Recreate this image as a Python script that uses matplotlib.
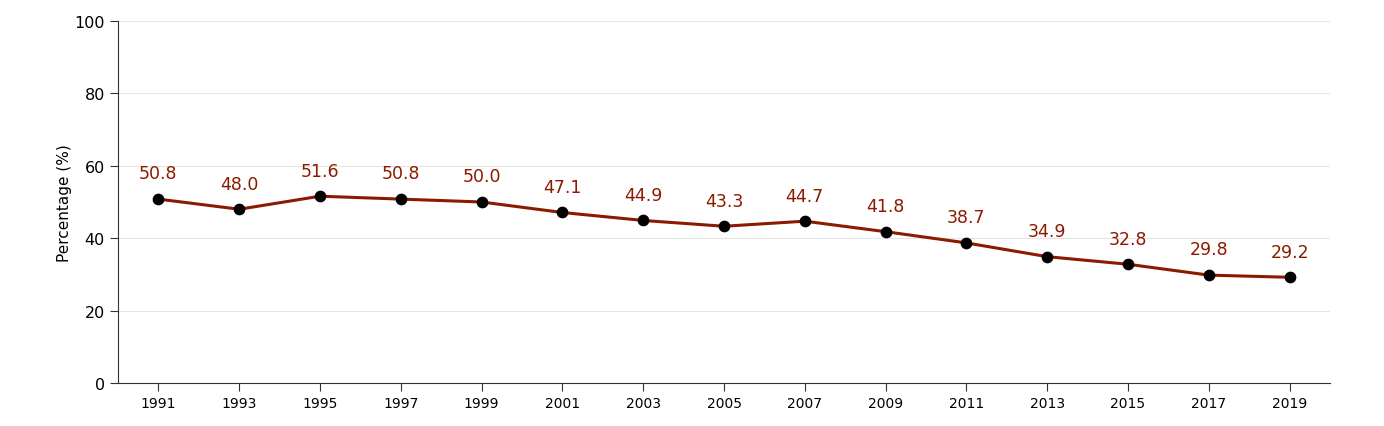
import matplotlib
matplotlib.use("Agg")
import matplotlib.pyplot as plt

years = ["1991", "1993", "1995", "1997", "1999", "2001", "2003", "2005",
         "2007", "2009", "2011", "2013", "2015", "2017", "2019"]
values = [50.8, 48.0, 51.6, 50.8, 50.0, 47.1, 44.9, 43.3,
          44.7, 41.8, 38.7, 34.9, 32.8, 29.8, 29.2]

line_color = "#8b1a00"

fig = plt.figure(figsize=(13.84, 4.27), dpi=100)
ax = fig.add_axes([118 / 1384, 43 / 427, 1212 / 1384, 362 / 427])

xs = list(range(len(years)))
ax.plot(xs, values, color=line_color, linewidth=2.2, zorder=2)
ax.scatter(xs, values, color="black", s=55, zorder=3)
for x, v in zip(xs, values):
    ax.annotate(f"{v:.1f}", (x, v), xytext=(0, 12), textcoords="offset points",
                ha="center", va="bottom", color=line_color, fontsize=12.5)

ax.set_xlim(-0.5, len(years) - 0.5)
ax.set_ylim(0, 100)
ax.set_xticks(xs)
ax.set_xticklabels(years, fontsize=10)
ax.set_yticks([0, 20, 40, 60, 80, 100])
ax.tick_params(axis="y", labelsize=11.5, length=6, color="#333333")
ax.tick_params(axis="x", length=6, color="#333333")
ax.set_ylabel("Percentage (%)", fontsize=11, labelpad=2)
ax.grid(axis="y", color="#e5e5e5", linewidth=0.8, zorder=0)
ax.set_axisbelow(True)
ax.spines["top"].set_visible(False)
ax.spines["right"].set_visible(False)
ax.spines["left"].set_color("#333333")
ax.spines["bottom"].set_color("#333333")

fig.savefig("out.png", dpi=100)
